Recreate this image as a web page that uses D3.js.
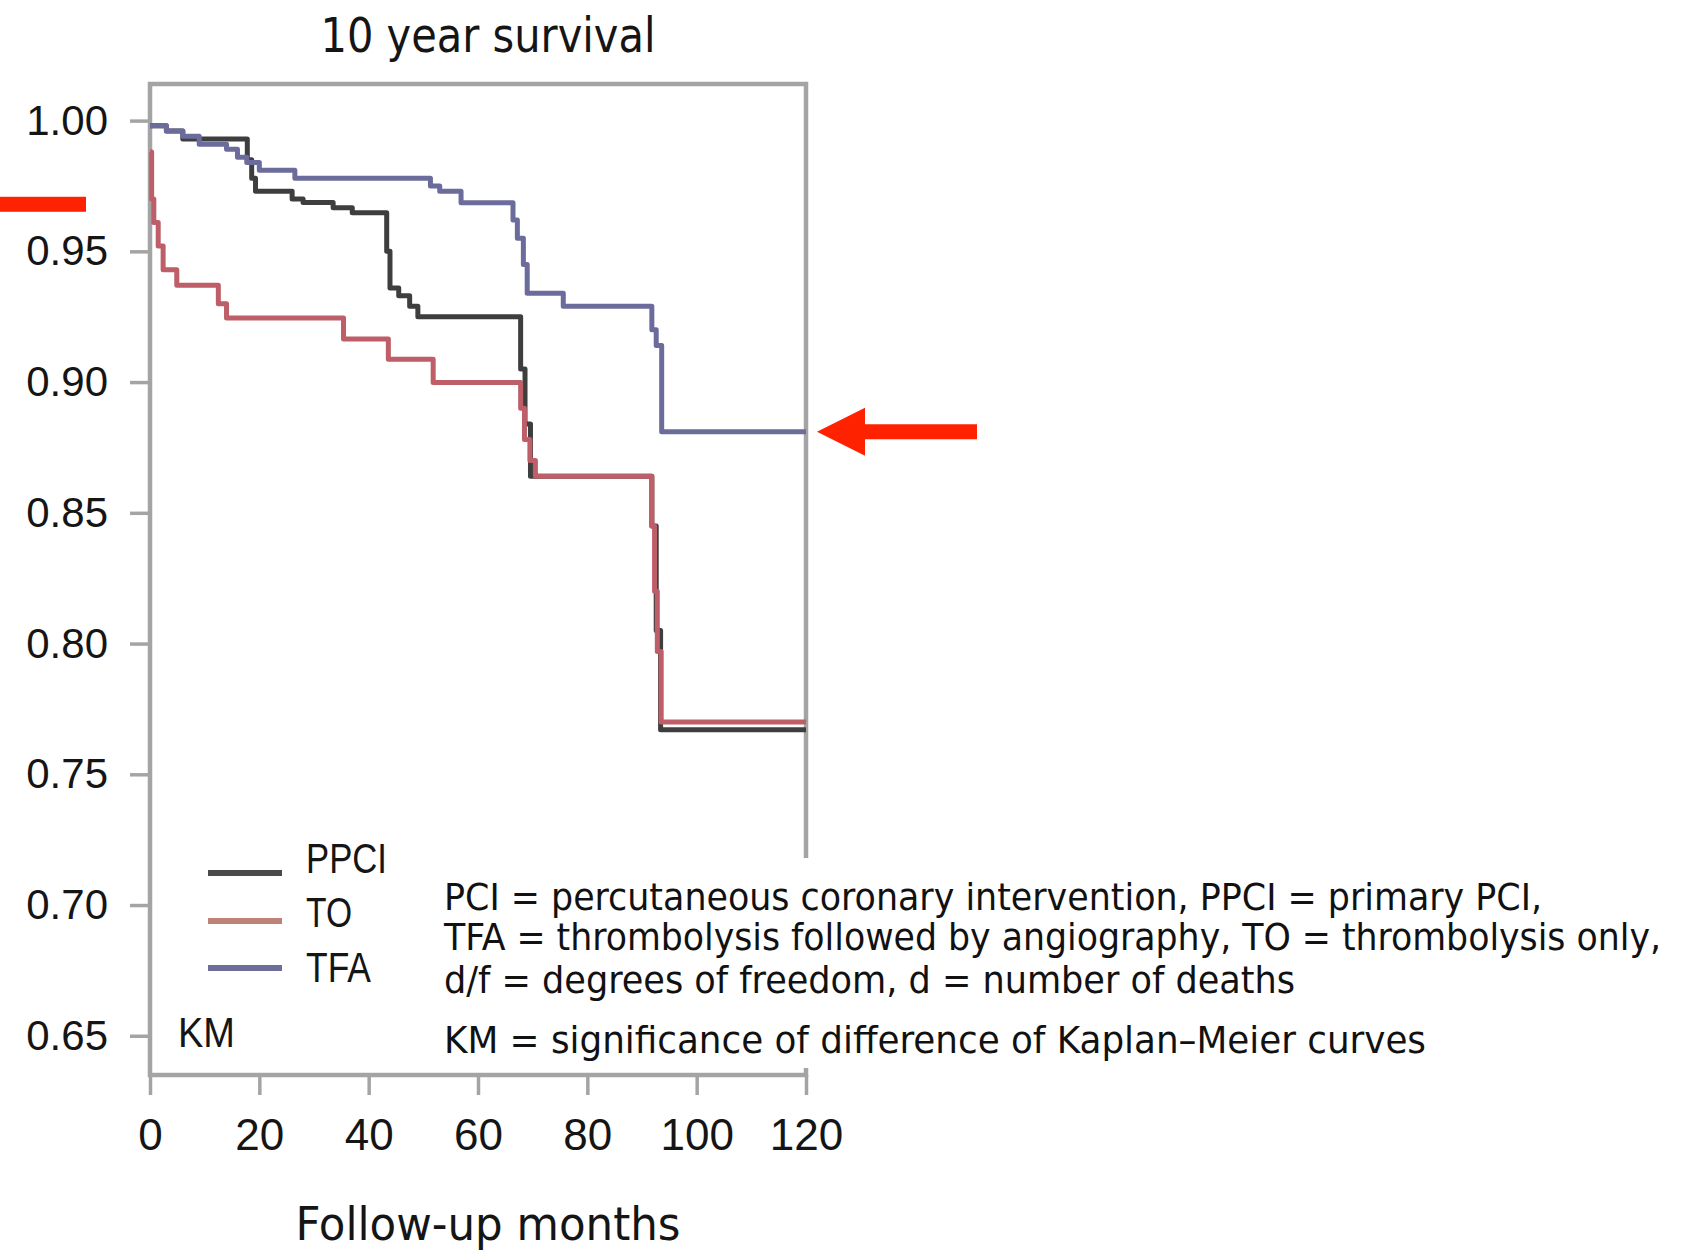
<!DOCTYPE html>
<html>
<head>
<meta charset="utf-8">
<script src="https://cdn.jsdelivr.net/npm/d3@7"></script>
<style>
  body { margin: 0; background: #fff; }
  svg { display: block; }
</style>
</head>
<body>
<script>
const W = 1685;
const H = 1251;

// Kaplan-Meier step points (months, survival)
const ppciMonths = [0, 3, 6, 17.8, 18.6, 19.3, 26, 28, 33.5, 37, 43.3, 43.9, 45.5, 47.5, 49, 67.8, 68.6, 69.6, 91.8, 92.6, 93.4, 120];
const ppciSurv = [0.998, 0.996, 0.993, 0.985, 0.978, 0.973, 0.970, 0.9687, 0.9667, 0.9648, 0.950, 0.936, 0.933, 0.929, 0.925, 0.905, 0.884, 0.864, 0.845, 0.805, 0.767, 0.767];

const toMonths = [0, 0.3, 0.7, 1.5, 2.4, 4.9, 12.5, 14, 35.4, 43.6, 51.8, 67.8, 68.5, 69.5, 70.5, 91.8, 92.3, 92.8, 93.5, 120];
const toSurv = [0.988, 0.970, 0.961, 0.952, 0.943, 0.937, 0.930, 0.9245, 0.9165, 0.9087, 0.8998, 0.890, 0.878, 0.870, 0.864, 0.845, 0.820, 0.797, 0.770, 0.770];

const tfaMonths = [0, 3, 6, 9, 14, 16, 17.7, 20, 26.5, 51.3, 53, 56.9, 66.4, 67.2, 68.3, 69, 75.6, 91.8, 92.6, 93.6, 120];
const tfaSurv = [0.998, 0.996, 0.994, 0.991, 0.989, 0.986, 0.984, 0.981, 0.978, 0.975, 0.973, 0.9686, 0.962, 0.955, 0.945, 0.934, 0.929, 0.920, 0.914, 0.881, 0.881];

const groups = ["PPCI", "TO", "TFA"];
const groupColors = ["#3e3e3e", "#bd5e68", "#6c6c9c"];
const legendColors = ["#4a4a4a", "#be8276", "#6e6e9a"];

const yTicks = [0.65, 0.70, 0.75, 0.80, 0.85, 0.90, 0.95, 1.00];
const xTicks = [0, 20, 40, 60, 80, 100, 120];

const notes = [
  "PCI = percutaneous coronary intervention, PPCI = primary PCI,",
  "TFA = thrombolysis followed by angiography, TO = thrombolysis only,",
  "d/f = degrees of freedom, d = number of deaths",
  "KM = significance of difference of Kaplan\u2013Meier curves"
];
const markerLevel = 0.968; // left red marker

const series = [
  ppciMonths.map((m, i) => [m, ppciSurv[i]]),
  toMonths.map((m, i) => [m, toSurv[i]]),
  tfaMonths.map((m, i) => [m, tfaSurv[i]])
];

const svg = d3.select("body")
  .append("svg")
  .attr("width", W)
  .attr("height", H);

const x = d3.scaleLinear().domain([0, 120]).range([150, 806]);
const y = d3.scaleLinear().domain([0.635, 1.014]).range([1075, 84]);

const frameColor = "#a4a4a4";
const sansFont = "'Liberation Sans', Arial, sans-serif";
const titleFont = "'DejaVu Sans Condensed', 'DejaVu Sans', sans-serif";

// frame
svg.append("rect")
  .attr("x", x(0))
  .attr("y", y(1.014))
  .attr("width", x(120) - x(0))
  .attr("height", y(0.635) - y(1.014))
  .attr("fill", "none")
  .attr("stroke", frameColor)
  .attr("stroke-width", 4.5);

// y axis
const yAxis = svg.append("g")
  .attr("transform", "translate(" + x(0) + ",0)")
  .call(d3.axisLeft(y).tickValues(yTicks).tickSize(20).tickPadding(22).tickFormat(d3.format(".2f")));
yAxis.select(".domain").remove();
yAxis.selectAll("line").attr("stroke", frameColor).attr("stroke-width", 3.5);
yAxis.selectAll("text")
  .attr("fill", "#151515")
  .style("font-family", sansFont)
  .style("font-size", "42px");

// x axis
const xAxis = svg.append("g")
  .attr("transform", "translate(0," + y(0.635) + ")")
  .call(d3.axisBottom(x).tickValues(xTicks).tickSize(20).tickPadding(24));
xAxis.select(".domain").remove();
xAxis.selectAll("line").attr("stroke", frameColor).attr("stroke-width", 3.5);
xAxis.selectAll("text")
  .attr("fill", "#151515")
  .style("font-family", sansFont)
  .style("font-size", "44px");

// curves
const line = d3.line()
  .x(d => x(d[0]))
  .y(d => y(d[1]))
  .curve(d3.curveStepAfter);

svg.selectAll(".km")
  .data(series)
  .enter()
  .append("path")
  .attr("class", "km")
  .attr("d", line)
  .attr("fill", "none")
  .attr("stroke", (d, i) => groupColors[i])
  .attr("stroke-width", 5)
  .attr("stroke-linejoin", "round");

// title
svg.append("text")
  .attr("x", 488)
  .attr("y", 52)
  .attr("text-anchor", "middle")
  .attr("textLength", 335)
  .attr("lengthAdjust", "spacingAndGlyphs")
  .style("font-family", titleFont)
  .style("font-size", "48px")
  .attr("fill", "#151515")
  .text("10 year survival");

// x label
svg.append("text")
  .attr("x", 488)
  .attr("y", 1240)
  .attr("text-anchor", "middle")
  .attr("textLength", 385)
  .attr("lengthAdjust", "spacingAndGlyphs")
  .style("font-family", titleFont)
  .style("font-size", "46px")
  .attr("fill", "#151515")
  .text("Follow-up months");

// legend
const legendLineY = [873, 921, 968];
const legendTextY = [873, 927, 982];
const legendWidths = [81, 46, 65];
groups.forEach(function(g, i) {
  svg.append("line")
    .attr("x1", 208)
    .attr("x2", 282)
    .attr("y1", legendLineY[i])
    .attr("y2", legendLineY[i])
    .attr("stroke", legendColors[i])
    .attr("stroke-width", 6);
  svg.append("text")
    .attr("x", 306)
    .attr("y", legendTextY[i])
    .attr("textLength", legendWidths[i])
    .attr("lengthAdjust", "spacingAndGlyphs")
    .style("font-family", sansFont)
    .style("font-size", "42px")
    .attr("fill", "#151515")
    .text(g);
});
svg.append("text")
  .attr("x", 178)
  .attr("y", 1047)
  .attr("textLength", 57)
  .attr("lengthAdjust", "spacingAndGlyphs")
  .style("font-family", sansFont)
  .style("font-size", "42px")
  .attr("fill", "#151515")
  .text("KM");

// pasted abbreviation box
svg.append("rect")
  .attr("x", 438)
  .attr("y", 858)
  .attr("width", W - 438)
  .attr("height", 210)
  .attr("fill", "#fff");

const noteY = [910, 950, 993, 1053];
const noteW = [1098, 1217, 851, 982];
svg.selectAll(".note")
  .data(notes)
  .enter()
  .append("text")
  .attr("class", "note")
  .attr("x", 444)
  .attr("y", (d, i) => noteY[i])
  .attr("textLength", (d, i) => noteW[i])
  .attr("lengthAdjust", "spacingAndGlyphs")
  .style("font-family", titleFont)
  .style("font-size", "38px")
  .attr("fill", "#111")
  .text(d => d);

// red markers
const red = "#ff2200";
svg.append("rect")
  .attr("x", 0)
  .attr("y", y(markerLevel) - 7.5)
  .attr("width", 86)
  .attr("height", 15)
  .attr("fill", red);

const tipX = x(120) + 11;
const tipY = y(tfaSurv[tfaSurv.length - 1]);
svg.append("path")
  .attr("d", "M" + tipX + "," + tipY +
    " L" + (tipX + 48) + "," + (tipY - 24) +
    " L" + (tipX + 48) + "," + (tipY - 7.5) +
    " L" + (tipX + 160) + "," + (tipY - 7.5) +
    " L" + (tipX + 160) + "," + (tipY + 7.5) +
    " L" + (tipX + 48) + "," + (tipY + 7.5) +
    " L" + (tipX + 48) + "," + (tipY + 24) + " Z")
  .attr("fill", red);
</script>
</body>
</html>
